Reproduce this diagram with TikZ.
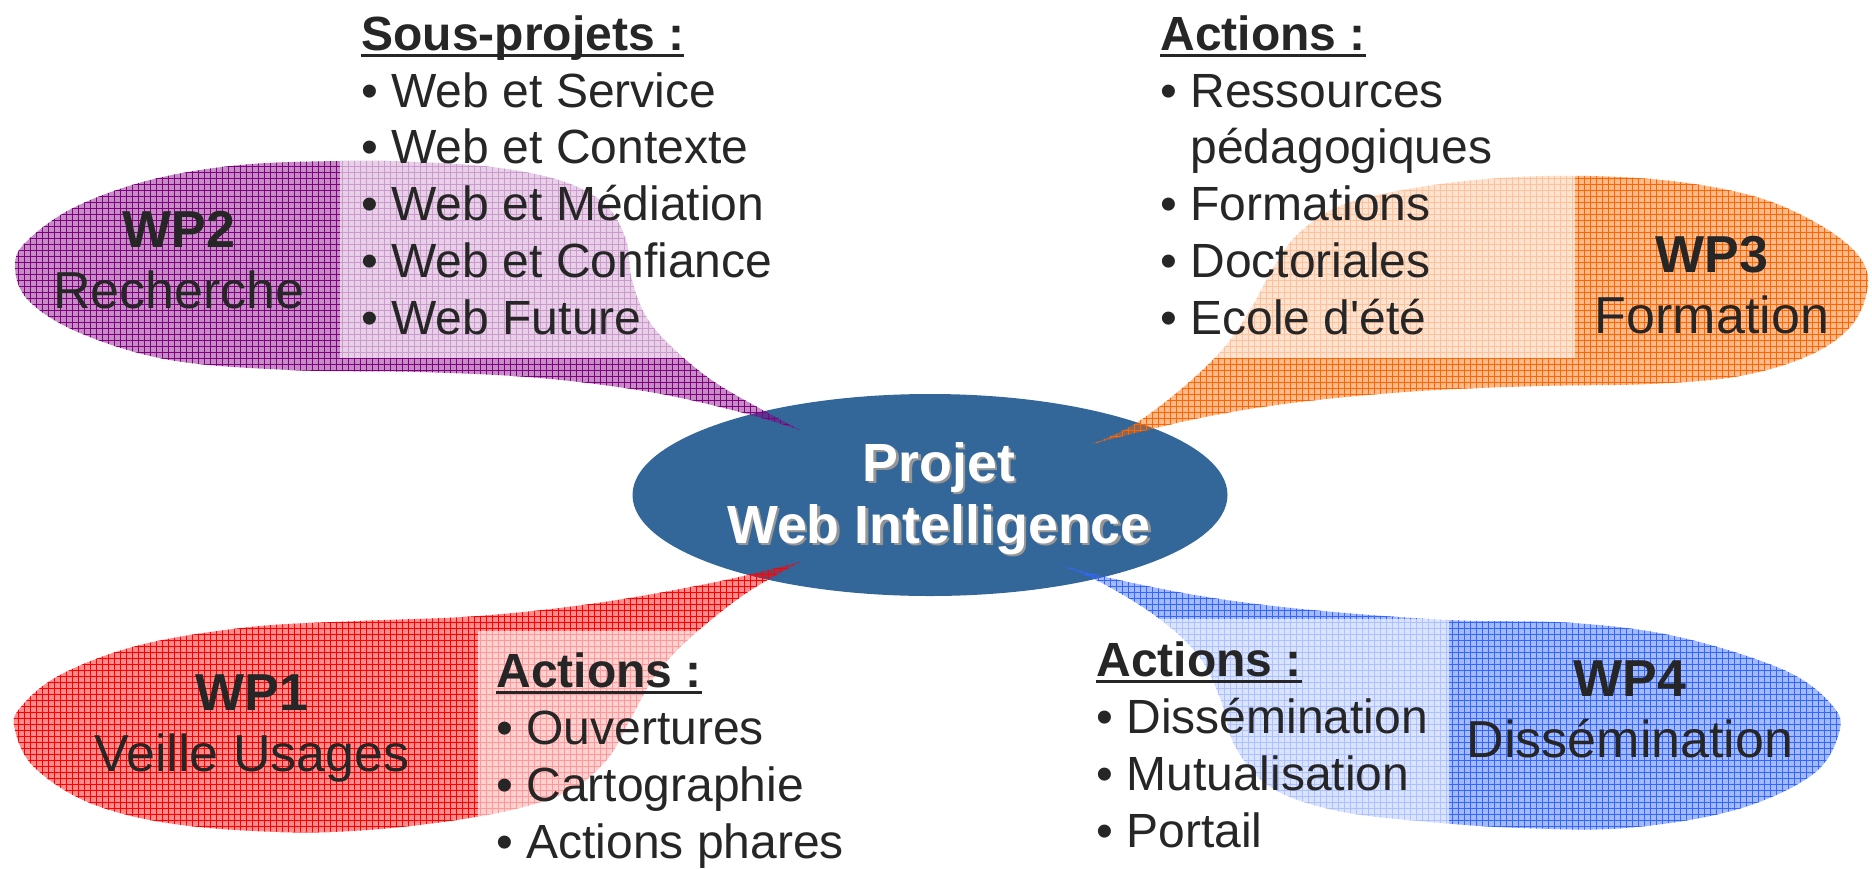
\documentclass[tikz,border=0pt]{standalone}
\usepackage{fontspec}
\setmainfont{Liberation Sans}
\usetikzlibrary{shapes.geometric,patterns,calc}
\definecolor{hubclr}{RGB}{51,102,153}
\definecolor{wpaclr}{RGB}{255,0,0}
\definecolor{wpbclr}{RGB}{128,0,128}
\definecolor{wpcclr}{RGB}{255,102,0}
\definecolor{wpdclr}{RGB}{51,102,255}
\definecolor{txtclr}{RGB}{38,38,38}
\definecolor{shadowclr}{RGB}{150,150,150}
\tikzset{
  hub/.style={ellipse,fill=hubclr,minimum width=297.5pt,minimum height=101pt,
    inner sep=0pt},
  hubtxt/.style={anchor=base,align=center,text=white,inner sep=0pt,
    font=\fontsize{26.9}{31}\selectfont\bfseries},
  bln/.style={fill=#1,fill opacity=.45,
    postaction={pattern=grid,pattern color=#1,fill opacity=.85}},
  litebox/.style={fill=white,fill opacity=.6},
  wplbl/.style={anchor=base,align=center,text=txtclr,inner sep=0pt,
    font=\fontsize{26}{30.5}\selectfont},
  lst/.style={anchor=base west,align=left,text=txtclr,inner sep=0pt,
    font=\fontsize{24}{28.35}\selectfont},
}
\newcommand{\hdr}[1]{\setbox0=\hbox{\bfseries #1}\rlap{\rule[-3pt]{\wd0}{1.4pt}}\box0}
\newcommand{\shd}[1]{\rlap{\kern1.2pt\raisebox{-1.2pt}{\textcolor{shadowclr}{#1}}}#1}

\begin{document}
\begin{tikzpicture}[x=0.5pt,y=-0.5pt]
  \useasboundingbox (0,0) rectangle (1872,868);
  % central project
  \node[hub] (hub) at (930,495) {};
  \coordinate (tipa) at ($(hub)+(-130,67)$);
  \coordinate (tipb) at ($(hub)+(-130,-65)$);
  \coordinate (tipc) at ($(hub)+(162,-51)$);
  \coordinate (tipd) at ($(hub)+(128,69)$);

  % balloons
  \path[bln=wpbclr] plot[smooth,tension=.6] coordinates {(tipb) (770,414) (716,383)
    (675,350) (647,318) (632,280) (626,240) (606,205) (565,182) (500,168) (420,162)
    (340,161) (240,165) (150,180) (75,207) (28,240) (15,265) (28,300) (80,333)
    (170,360) (290,370) (420,372) (540,378) (650,392) (740,412) (tipb)} -- cycle;
  \path[bln=wpcclr] plot[smooth,tension=.6] coordinates {(tipc) (1133,425) (1180,390)
    (1222,350) (1250,310) (1275,265) (1300,232) (1342,205) (1414,188) (1500,178)
    (1590,176) (1680,182) (1760,198) (1820,225) (1858,255) (1868,285) (1852,325)
    (1810,355) (1740,376) (1650,384) (1540,386) (1420,391) (1300,402) (1200,418)
    (tipc)} -- cycle;
  \path[bln=wpaclr] plot[smooth,tension=.6] coordinates {(tipa) (716,582) (597,603)
    (478,616) (358,621) (250,627) (140,645) (60,675) (20,708) (15,730) (35,768)
    (95,805) (190,826) (330,832) (470,818) (560,795) (605,762) (630,720) (655,676)
    (690,638) (745,594) (tipa)} -- cycle;
  \path[bln=wpdclr] plot[smooth,tension=.6] coordinates {(tipd) (1110,578) (1207,597)
    (1312,610) (1448,620) (1574,623) (1679,637) (1784,670) (1832,705) (1839,733)
    (1812,775) (1735,810) (1626,828) (1522,828) (1430,822) (1338,811) (1272,788)
    (1236,748) (1220,698) (1198,655) (1157,617) (1102,583) (tipd)} -- cycle;

  % text boxes
  \fill[litebox] (340,0) rectangle (800,358);
  \fill[litebox] (1139,0) rectangle (1575,358);
  \fill[litebox] (478,631) rectangle (900,868);
  \fill[litebox] (1076,619) rectangle (1449,868);

  \node[hubtxt] (hubtitle) at (939,543) {\shd{Projet}\\\shd{Web Intelligence}};

  % work packages (base = last line)
  \node[wplbl] (wpb) at (179,308) {\textbf{WP2}\\Recherche};
  \node[wplbl] (wpc) at (1712,333) {\textbf{WP3}\\Formation};
  \node[wplbl] (wpa) at (252,771) {\textbf{WP1}\\Veille Usages};
  \node[wplbl] (wpd) at (1630,757) {\textbf{WP4}\\Dissémination};

  \node[lst] (lstb) at (361,334) {\hdr{Sous-projets :}\\\textbullet~Web et Service\\
    \textbullet~Web et Contexte\\\textbullet~Web et Médiation\\
    \textbullet~Web et Confiance\\\textbullet~Web Future};
  \node[lst] (lstc) at (1160,334) {\hdr{Actions :}\\\textbullet~Ressources\\
    \hphantom{\textbullet~}pédagogiques\\\textbullet~Formations\\
    \textbullet~Doctoriales\\\textbullet~Ecole d\textquotesingle été};
  \node[lst] (lsta) at (496,858) {\hdr{Actions :}\\\textbullet~Ouvertures\\
    \textbullet~Cartographie\\\textbullet~Actions phares};
  \node[lst] (lstd) at (1096,847) {\hdr{Actions :}\\\textbullet~Dissémination\\
    \textbullet~Mutualisation\\\textbullet~Portail};
\end{tikzpicture}
\end{document}
